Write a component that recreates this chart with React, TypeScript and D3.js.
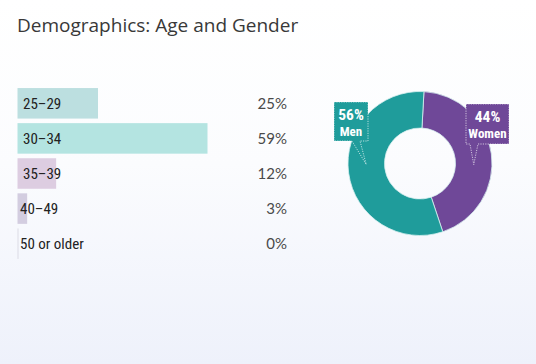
import React from "react";
import * as d3 from "d3";

const ageGroups = ["25–29", "30–34", "35–39", "40–49", "50 or older"];
const agePercents = [25, 59, 12, 3, 0];
const ageColors = ["#bcdfe0", "#b4e4e1", "#ddcde1", "#d3cde0", "#dcdce6"];

const genders = ["Women", "Men"];
const genderPercents = [44, 56];
const genderColors = ["#6f4898", "#1f9c9b"];

const W = 536;
const H = 364;

const COND = "'Roboto Condensed', 'DejaVu Sans Condensed', 'Liberation Sans Narrow', sans-serif";

export default function App() {
  const x = d3.scaleLinear().domain([0, 59]).range([0, 190]);
  const y = d3.scaleBand<string>().domain(ageGroups).range([87, 260]).paddingInner(0.13).paddingOuter(0.03);
  const x0 = 17.5;

  const cx = 420, cy = 163.5, rO = 72, rI = 35.5;
  const pie = d3.pie<number>().sort(null).startAngle(0.055).endAngle(0.055 + Math.PI * 2);
  const arcs = pie(genderPercents);
  const arc = d3.arc<d3.PieArcDatum<number>>().innerRadius(rI).outerRadius(rO);
  const midR = (rI + rO) / 2;

  const callouts = [
    { i: 1, box: [334, 102, 368, 141], base: [352, 360], ang: -Math.PI / 2 },
    { i: 0, box: [466, 104, 509, 144], base: [470, 478], ang: Math.PI / 2 },
  ];

  return (
    <svg width={W} height={H} style={{ position: "absolute", left: 0, top: 0 }}>
      <defs>
        <linearGradient id="bg" x1="0" y1="0" x2="0" y2="1">
          <stop offset="0" stopColor="#ffffff" />
          <stop offset="0.45" stopColor="#fbfcfe" />
          <stop offset="1" stopColor="#eef1fb" />
        </linearGradient>
      </defs>
      <rect width={W} height={H} fill="url(#bg)" />
      <text x={17} y={32} fontFamily="'Open Sans', Lato, sans-serif" fontSize={19} fill="#383838">
        Demographics: Age and Gender
      </text>
      {ageGroups.map((g, i) => {
        const by = y(g)!;
        const bh = y.bandwidth();
        return (
          <g key={g}>
            {agePercents[i] > 0 ? (
              <rect x={x0} y={by} width={x(agePercents[i])} height={bh} fill={ageColors[i]} />
            ) : (
              <rect x={x0} y={by} width={1} height={bh} fill={ageColors[i]} />
            )}
            <text x={i === 3 || i === 4 ? 20 : 23} y={by + bh / 2 + 5.5} fontFamily={COND} fontSize={15} fill="#222">
              {g}
            </text>
            <text x={287} y={by + bh / 2 + 5.5} textAnchor="end" fontFamily="Lato, 'Noto Sans', sans-serif" fontSize={15} fill="#4a4a4a">
              {agePercents[i]}%
            </text>
          </g>
        );
      })}
      <g transform={`translate(${cx},${cy})`}>
        {arcs.map((a, i) => (
          <path key={i} d={arc(a)!} fill={genderColors[i]} stroke="#d8f0f0" strokeWidth={0.8} />
        ))}
      </g>
      {callouts.map((c) => {
        const [x1, y1, x2, y2] = c.box;
        const px = cx + midR * Math.sin(c.ang);
        const py = cy - midR * Math.cos(c.ang) + 1;
        const d = `M${x1},${y1}L${x2},${y1}L${x2},${y2}L${c.base[1]},${y2}L${px},${py}L${c.base[0]},${y2}L${x1},${y2}Z`;
        const mx = (x1 + x2) / 2;
        return (
          <g key={c.i}>
            <path d={d} fill={genderColors[c.i]} stroke="#ffffff" strokeOpacity={0.85} strokeWidth={0.8} strokeDasharray="1.2,1.2" />
            <text x={mx} y={y1 + 17.5} textAnchor="middle" fontFamily={COND} fontWeight="bold" fontSize={15.5} fill="#fff">
              {genderPercents[c.i]}%
            </text>
            <text x={mx} y={y1 + 34} textAnchor="middle" fontFamily={COND} fontWeight="bold" fontSize={13} fill="#fff">
              {genders[c.i]}
            </text>
          </g>
        );
      })}
    </svg>
  );
}
